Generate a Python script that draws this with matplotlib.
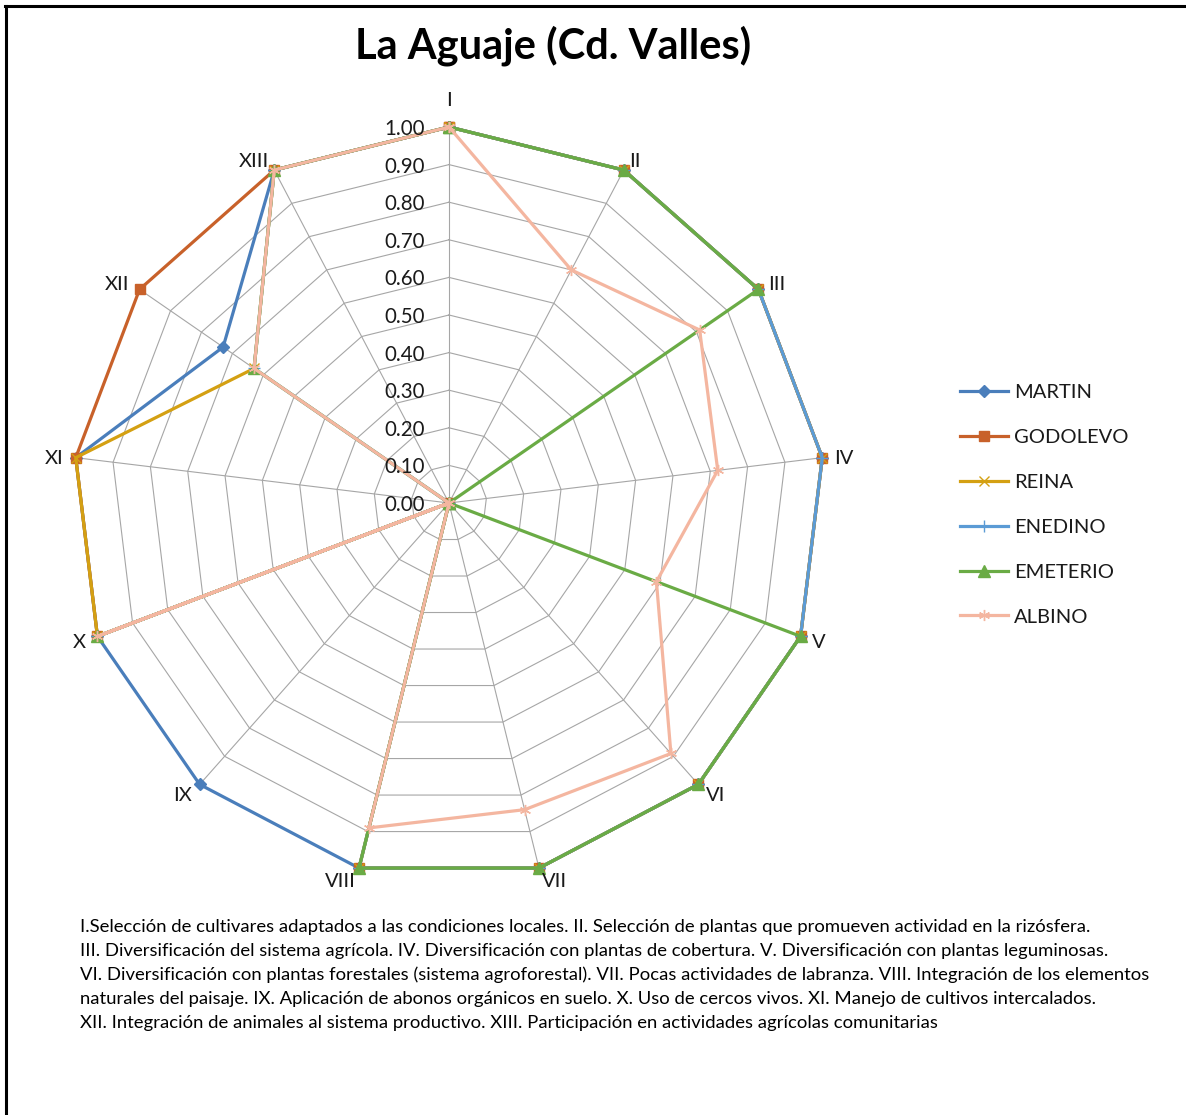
import numpy as np
import matplotlib
matplotlib.use("Agg")
import matplotlib.pyplot as plt
from matplotlib.lines import Line2D

plt.rcParams['font.family'] = ['Lato', 'DejaVu Sans']

# Axis categories (principles) and scores per producer
categories = ["I", "II", "III", "IV", "V", "VI", "VII", "VIII", "IX", "X", "XI", "XII", "XIII"]
martin   = [1.00, 1.00, 1.00, 1.00, 1.00, 1.00, 1.00, 1.00, 1.00, 1.00, 1.00, 0.73, 1.00]
godolevo = [1.00, 1.00, 1.00, 1.00, 1.00, 1.00, 1.00, 1.00, 0.00, 1.00, 1.00, 1.00, 1.00]
reina    = [1.00, 1.00, 1.00, 1.00, 1.00, 1.00, 1.00, 1.00, 0.00, 1.00, 1.00, 0.63, 1.00]
enedino  = [1.00, 1.00, 1.00, 1.00, 1.00, 1.00, 1.00, 1.00, 0.00, 1.00, 0.00, 0.63, 1.00]
emeterio = [1.00, 1.00, 1.00, 0.00, 1.00, 1.00, 1.00, 1.00, 0.00, 1.00, 0.00, 0.63, 1.00]
albino   = [1.00, 0.70, 0.81, 0.72, 0.59, 0.89, 0.84, 0.89, 0.00, 1.00, 0.00, 0.63, 1.00]
series_names = ["MARTIN", "GODOLEVO", "REINA", "ENEDINO", "EMETERIO", "ALBINO"]
radial_ticks = [0.0, 0.1, 0.2, 0.3, 0.4, 0.5, 0.6, 0.7, 0.8, 0.9, 1.0]

footnote_lines = [
    "I.Selección de cultivares adaptados a las condiciones locales. II. Selección de plantas que promueven actividad en la rizósfera.",
    "III. Diversificación del sistema agrícola. IV. Diversificación con plantas de cobertura. V. Diversificación con plantas leguminosas.",
    "VI. Diversificación con plantas forestales (sistema agroforestal). VII. Pocas actividades de labranza. VIII. Integración de los elementos",
    "naturales del paisaje. IX. Aplicación de abonos orgánicos en suelo. X. Uso de cercos vivos. XI. Manejo de cultivos intercalados.",
    "XII. Integración de animales al sistema productivo. XIII. Participación en actividades agrícolas comunitarias",
]

styles = [
    dict(color="#4A7EBB", marker="D", ms=6.0),
    dict(color="#C8612A", marker="s", ms=7.0),
    dict(color="#D4A012", marker="x", ms=7.5, mew=1.0),
    dict(color="#5B9BD5", marker="+", ms=8.0, mew=1.0),
    dict(color="#6AAB45", marker="^", ms=8.0),
    dict(color="#F4B6A0", marker=(6, 2, 0), ms=8.0, mew=1.0),
]
all_series = [martin, godolevo, reina, enedino, emeterio, albino]

W, H = 1186, 1115
fig = plt.figure(figsize=(W / 100, H / 100), dpi=100)

# Frame lines along the top and left edges
fig.add_artist(Line2D([5 / W, 1.0], [1 - 6 / H, 1 - 6 / H], color="black", lw=2.2, transform=fig.transFigure))
fig.add_artist(Line2D([6 / W, 6 / W], [0, 1 - 6 / H], color="black", lw=2.2, transform=fig.transFigure))

cx, cy, R = 449, 503, 376
ax = fig.add_axes([(cx - R) / W, (H - cy - R) / H, 2 * R / W, 2 * R / H], projection="polar")
ax.set_theta_offset(np.pi / 2)
ax.set_theta_direction(-1)
ax.set_ylim(0, 1.0)
ax.grid(False)
ax.spines["polar"].set_visible(False)
ax.set_xticks([])
ax.set_yticks([])
ax.patch.set_alpha(0)

n = len(categories)
theta = np.arange(n) * 2 * np.pi / n
theta_c = np.append(theta, theta[0])

grid_color = "#A6A6A6"
for r in radial_ticks[1:]:
    ax.plot(theta_c, [r] * (n + 1), color=grid_color, lw=0.8, zorder=1)
for t in theta:
    ax.plot([t, t], [0, 1.0], color=grid_color, lw=0.8, zorder=1)

handles = []
for name, vals, st in zip(series_names, all_series, styles):
    v = np.append(vals, vals[0])
    line, = ax.plot(theta_c, v, color=st["color"], lw=2.3, marker=st["marker"],
                    ms=st["ms"], mew=st.get("mew", 1.0), mec=st["color"], mfc=st["color"],
                    label=name, zorder=3, clip_on=False)
    handles.append(line)

# Radial value labels beside the first axis
for r in radial_ticks:
    ax.annotate(f"{r:.2f}", xy=(0, r), xytext=(-24, -2), textcoords="offset pixels",
                ha="right", va="center", fontsize=14.8, color="#1a1a1a",
                annotation_clip=False)

# Category labels outside each axis
for t, lab in zip(theta, categories):
    ang = np.pi / 2 - t
    c, s = np.cos(ang), np.sin(ang)
    if abs(c) < 0.05:
        ha = "center"
    elif c > 0:
        ha = "left"
    else:
        ha = "right"
    off = 12
    dx, dy = off * c, off * s
    if lab == "I":
        dy = 29
    ax.annotate(lab, xy=(t, 1.0), xytext=(dx, dy - 2), textcoords="offset pixels",
                ha=ha, va="center", fontsize=14.5, color="#1a1a1a",
                annotation_clip=False)

fig.text(553 / W, 1 - 46 / H, "La Aguaje (Cd. Valles)", ha="center", va="center",
         fontsize=30, fontweight="bold", color="black")

leg = fig.legend(handles=handles, loc="upper left", bbox_to_anchor=(960 / W, 1 - 384 / H),
                 frameon=False, fontsize=14.5, labelspacing=1.38, handlelength=2.4,
                 handletextpad=0.3, borderaxespad=0, borderpad=0)
for txt in leg.get_texts():
    txt.set_color("#1a1a1a")

for i, line in enumerate(footnote_lines):
    fig.text(80 / W, 1 - (927 + 24 * i) / H, line, ha="left", va="center",
             fontsize=13.3, color="black")

fig.savefig("out.png", dpi=100)
